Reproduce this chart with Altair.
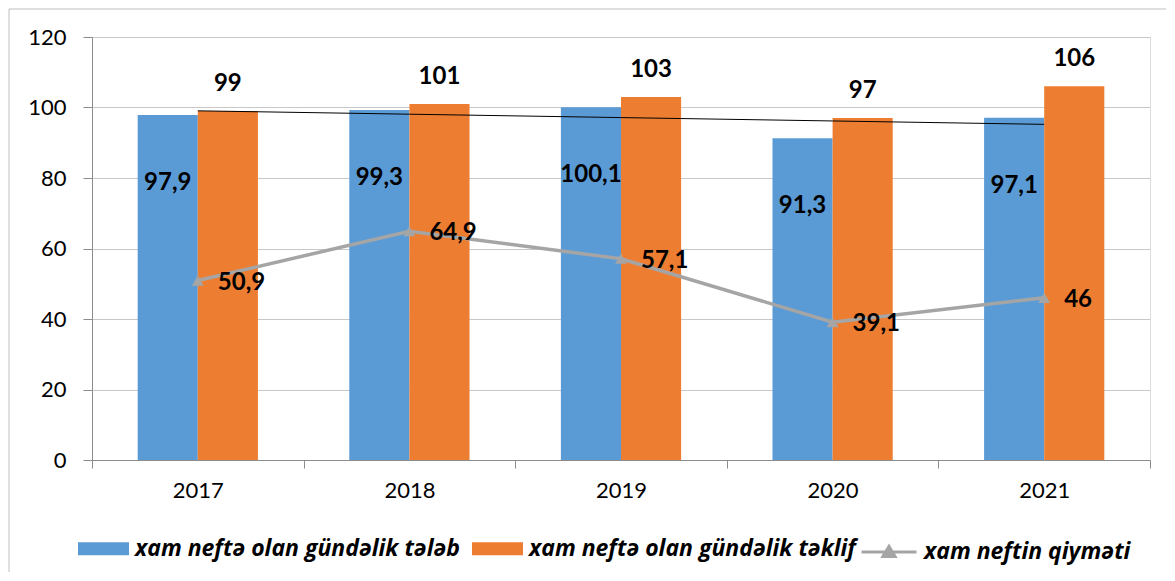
import altair as alt
import pandas as pd
import numpy as np

years = ["2017", "2018", "2019", "2020", "2021"]
demand = [97.9, 99.3, 100.1, 91.3, 97.1]
supply = [99, 101, 103, 97, 106]
price = [50.9, 64.9, 57.1, 39.1, 46]

s_dem = "xam neftə olan gündəlik tələb"
s_sup = "xam neftə olan gündəlik təklif"
s_price = "xam neftin qiyməti"

BLUE = "#5B9BD5"
ORANGE = "#ED7D31"
GRAY = "#A5A5A5"
FONT = "Lato"
LFONT = "Open Sans"


def fmt(v):
    s = ("%g" % v)
    return s.replace(".", ",")


bars = pd.DataFrame({
    "year": years * 2,
    "series": [s_dem] * 5 + [s_sup] * 5,
    "value": demand + supply,
})
bars["label"] = bars["value"].map(fmt)

coef = np.polyfit(np.arange(len(demand)), demand, 1)
trend = np.polyval(coef, np.arange(len(demand)))
line = pd.DataFrame({"year": years, "price": price, "trend": trend, "kind": [s_price] * 5})
line["label"] = line["price"].map(fmt)

W, H = 1058, 423

x = alt.X("year:N", title=None, sort=years,
          scale=alt.Scale(paddingInner=0, paddingOuter=0),
          axis=alt.Axis(tickBand="extent", labelAngle=0, labelFont=FONT, labelFontSize=22,
                        labelColor="#000000", tickColor="#8C8C8C", domainColor="#8C8C8C",
                        tickSize=8, labelPadding=12, grid=False))
y = alt.Y("value:Q", title=None,
          scale=alt.Scale(domain=[0, 120], nice=False),
          axis=alt.Axis(values=[0, 20, 40, 60, 80, 100, 120], labelFont=FONT, labelFontSize=22,
                        labelColor="#000000", tickColor="#8C8C8C", domainColor="#8C8C8C",
                        gridColor="#C8C8C8", tickSize=9, labelPadding=17))
xoff = alt.XOffset("series:N", sort=[s_dem, s_sup],
                   scale=alt.Scale(paddingInner=0, paddingOuter=0.76))

rect_path = "M-1,-0.255L1,-0.255L1,0.255L-1,0.255Z"
line_path = "M-1,0L1,0M-0.22,0.16L0,-0.2L0.22,0.16Z"

legend_common = dict(orient="none", direction="horizontal", title=None,
                     labelFont=LFONT, labelFontSize=23, labelFontStyle="italic",
                     labelFontWeight="bold", labelColor="#000000", labelLimit=0,
                     labelOffset=6, columnPadding=12, legendY=486)

bar_layer = alt.Chart(bars).mark_bar().encode(
    x=x, xOffset=xoff, y=y,
    fill=alt.Fill("series:N", sort=[s_dem, s_sup],
                  scale=alt.Scale(domain=[s_dem, s_sup], range=[BLUE, ORANGE]),
                  legend=alt.Legend(symbolType=rect_path, symbolSize=2601,
                                    symbolStrokeWidth=0, legendX=-14, **legend_common)),
)

dem_text = alt.Chart(bars).transform_filter(alt.datum.series == s_dem).mark_text(
    font=FONT, fontSize=24, fontWeight="bold", color="#000000", baseline="middle", dy=68
).encode(x=x, xOffset=xoff, y=y, text="label:N")

sup_text = alt.Chart(bars).transform_filter(alt.datum.series == s_sup).mark_text(
    font=FONT, fontSize=24, fontWeight="bold", color="#000000", baseline="middle", dy=-27
).encode(x=x, xOffset=xoff, y=y, text="label:N")

trend_layer = alt.Chart(line).mark_line(color="#000000", strokeWidth=1).encode(
    x=x, y=alt.Y("trend:Q"))

price_line = alt.Chart(line).mark_line(strokeWidth=3.5).encode(
    x=x, y=alt.Y("price:Q"),
    stroke=alt.Stroke("kind:N", scale=alt.Scale(domain=[s_price], range=[GRAY]),
                      legend=alt.Legend(symbolType=line_path, symbolSize=3025,
                                        symbolStrokeWidth=3, symbolFillColor=GRAY,
                                        legendX=768, **legend_common)),
)
price_pts = alt.Chart(line).mark_point(shape="triangle-up", filled=True, size=140,
                                       color=GRAY, opacity=1).encode(x=x, y=alt.Y("price:Q"))
price_text = alt.Chart(line).mark_text(
    font=FONT, fontSize=24, fontWeight="bold", color="#000000", align="left",
    baseline="middle", dx=20, dy=2
).encode(x=x, y=alt.Y("price:Q"), text="label:N")

one = pd.DataFrame({"a": [0]})
border_top = alt.Chart(one).mark_rule(color="#BFBFBF", strokeWidth=1).encode(
    x=alt.value(-83), x2=alt.value(1074), y=alt.value(-28))
border_left = alt.Chart(one).mark_rule(color="#BFBFBF", strokeWidth=1).encode(
    x=alt.value(-83), y=alt.value(-28), y2=alt.value(535))

chart = alt.layer(
    bar_layer, trend_layer, price_line, price_pts, dem_text, sup_text, price_text,
    border_top, border_left
).properties(width=W, height=H, padding=0).configure_view(stroke=None).configure(
    background="#FFFFFF")

chart.save("out.html", embed_options={"renderer": "svg", "actions": False})
